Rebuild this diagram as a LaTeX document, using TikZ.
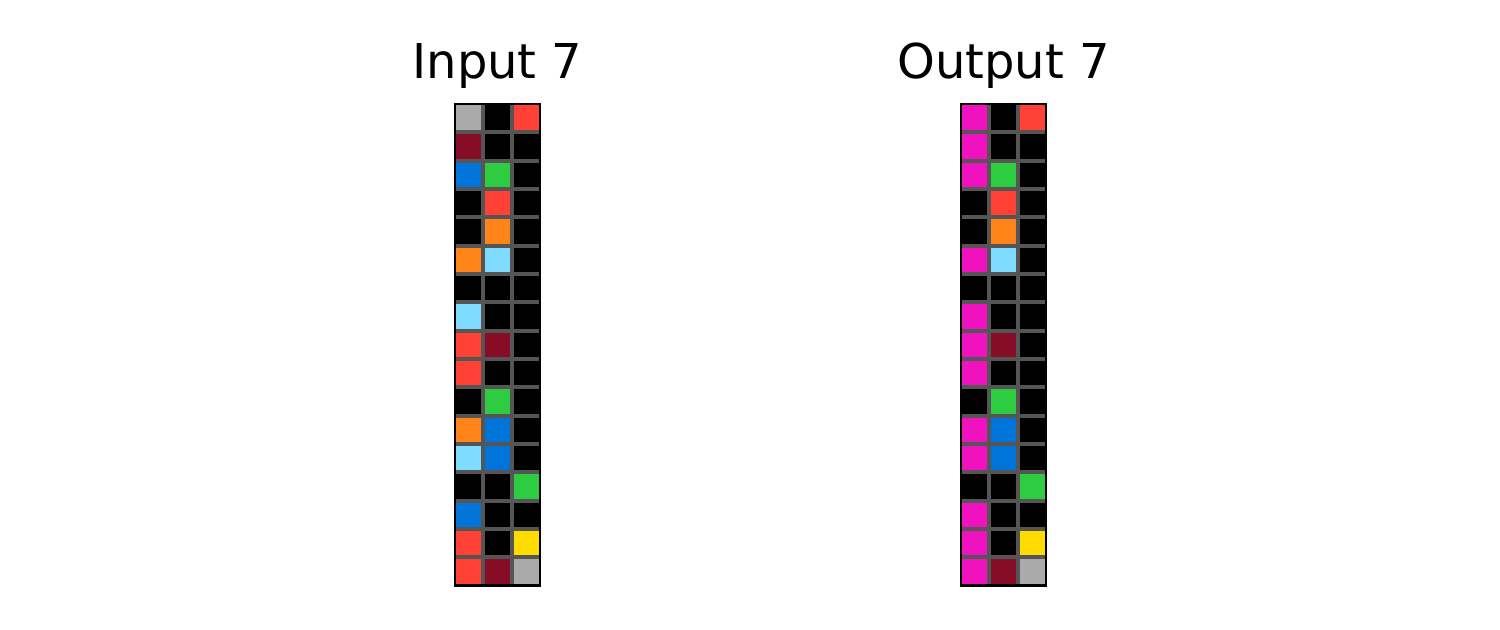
\documentclass[tikz,border=0pt]{standalone}
\usepackage{fontspec}
\setmainfont{DejaVu Sans}
\definecolor{cK}{HTML}{000000}
\definecolor{cA}{HTML}{AAAAAA}
\definecolor{cM}{HTML}{870C25}
\definecolor{cB}{HTML}{0074D9}
\definecolor{cG}{HTML}{2ECC40}
\definecolor{cR}{HTML}{FF4136}
\definecolor{cO}{HTML}{FF851B}
\definecolor{cL}{HTML}{7FDBFF}
\definecolor{cY}{HTML}{FFDC00}
\definecolor{cP}{HTML}{F012BE}
\definecolor{gridgray}{HTML}{555555}
\tikzset{
  gridline/.style={draw=gridgray, line width=2pt},
  gridborder/.style={draw=black, line width=1.25pt},
  title/.style={anchor=base, inner sep=0pt, font=\fontsize{24}{24}\selectfont}
}
\newcommand{\cs}{28.333}
\begin{document}
\begin{tikzpicture}[x=0.5pt,y=-0.5pt]
\useasboundingbox (0,0) rectangle (1500,629);
% input grid
\foreach \r/\a/\b/\c in {0/A/K/R,1/M/K/K,2/B/G/K,3/K/R/K,4/K/O/K,5/O/L/K,6/K/K/K,7/L/K/K,8/R/M/K,9/R/K/K,10/K/G/K,11/O/B/K,12/L/B/K,13/K/K/G,14/B/K/K,15/R/K/Y,16/R/M/A}{
  \fill[c\a] (455,104+\r*\cs) rectangle ++(\cs,\cs);
  \fill[c\b] (455+\cs,104+\r*\cs) rectangle ++(\cs,\cs);
  \fill[c\c] (455+2*\cs,104+\r*\cs) rectangle ++(\cs,\cs);
}
% output grid
\foreach \r/\a/\b/\c in {0/P/K/R,1/P/K/K,2/P/G/K,3/K/R/K,4/K/O/K,5/P/L/K,6/K/K/K,7/P/K/K,8/P/M/K,9/P/K/K,10/K/G/K,11/P/B/K,12/P/B/K,13/K/K/G,14/P/K/K,15/P/K/Y,16/P/M/A}{
  \fill[c\a] (961,104+\r*\cs) rectangle ++(\cs,\cs);
  \fill[c\b] (961+\cs,104+\r*\cs) rectangle ++(\cs,\cs);
  \fill[c\c] (961+2*\cs,104+\r*\cs) rectangle ++(\cs,\cs);
}
\foreach \x in {455,961}{
  \foreach \i in {1,2}
    \draw[gridline] (\x+\i*\cs,104) -- ++(0,17*\cs);
  \foreach \j in {1,...,16}
    \draw[gridline] (\x,104+\j*\cs) -- ++(3*\cs,0);
  \draw[gridborder] (\x,104) rectangle ++(3*\cs,17*\cs);
}
\node[title] (tin) at (497.5,78.5) {Input 7};
\node[title] (tout) at (1003.5,78.5) {Output 7};
\end{tikzpicture}
\end{document}
